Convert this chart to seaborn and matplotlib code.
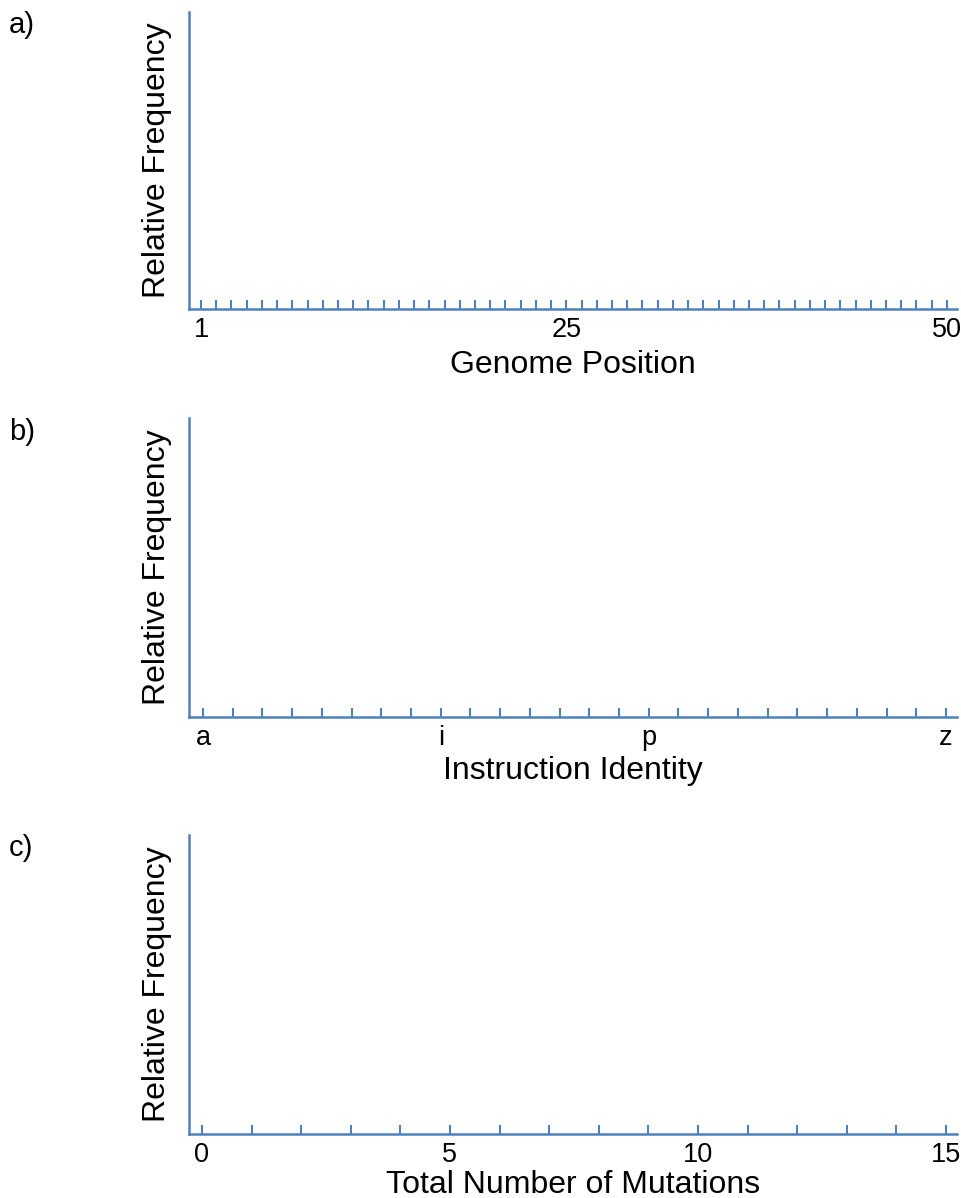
import matplotlib
matplotlib.use("Agg")
import matplotlib.pyplot as plt
import seaborn as sns

# panel a: genome position axis
genome_positions = list(range(1, 51))
genome_shown = [1, 25, 50]

# panel b: instruction identity axis
instructions = list("abcdefghijklmnopqrstuvwxyz")
instr_shown = ["a", "i", "p", "z"]

# panel c: total number of mutations
mutation_counts = list(range(0, 16))
mut_shown = [0, 5, 10, 15]

panel_tags = ["a)", "b)", "c)"]
x_titles = ["Genome Position", "Instruction Identity", "Total Number of Mutations"]
y_title = "Relative Frequency"

sns.set_style("ticks")
plt.rcParams['font.family'] = ['Liberation Sans', 'DejaVu Sans']
plt.rcParams['text.color'] = 'black'
plt.rcParams['axes.labelcolor'] = 'black'
plt.rcParams['xtick.labelcolor'] = 'black'

blue = "#4f81bd"
fig = plt.figure(figsize=(9.61, 11.98), dpi=100)

boxes = [[0.1967, 0.7421, 0.7991, 0.2479],
         [0.1967, 0.4015, 0.7991, 0.2496],
         [0.1967, 0.0534, 0.7991, 0.2496]]
tag_y = [0.979, 0.639, 0.292]
xpads = [5, 3, 1]

# positions / labels for each panel
pos_a = genome_positions
lab_a = [str(p) if p in genome_shown else "" for p in genome_positions]
pos_b = list(range(len(instructions)))
lab_b = [c if c in instr_shown else "" for c in instructions]
pos_c = mutation_counts
lab_c = [str(m) if m in mut_shown else "" for m in mutation_counts]

ticks = [(pos_a, lab_a, (0.21, 50.66)),
         (pos_b, lab_b, (-0.47, 25.37)),
         (pos_c, lab_c, (-0.26, 15.22))]

for i in range(3):
    ax = fig.add_axes(boxes[i])
    pos, lab, lim = ticks[i]
    ax.set_xlim(*lim)
    ax.set_ylim(0, 1)
    ax.set_xticks(pos)
    ax.set_xticklabels(lab, fontsize=19.5)
    ax.set_yticks([])
    ax.tick_params(axis="x", direction="in", length=6.5, width=1.5,
                   color=blue, pad=6)
    sns.despine(ax=ax)
    for s in ["left", "bottom"]:
        ax.spines[s].set_color(blue)
        ax.spines[s].set_linewidth(1.8)
    ax.set_xlabel(x_titles[i], fontsize=23, labelpad=xpads[i])
    ax.set_ylabel(y_title, fontsize=23, labelpad=12.5)
    fig.text(0.009, tag_y[i], panel_tags[i], fontsize=21, va="center", ha="left")

fig.savefig("out.png", dpi=100)
